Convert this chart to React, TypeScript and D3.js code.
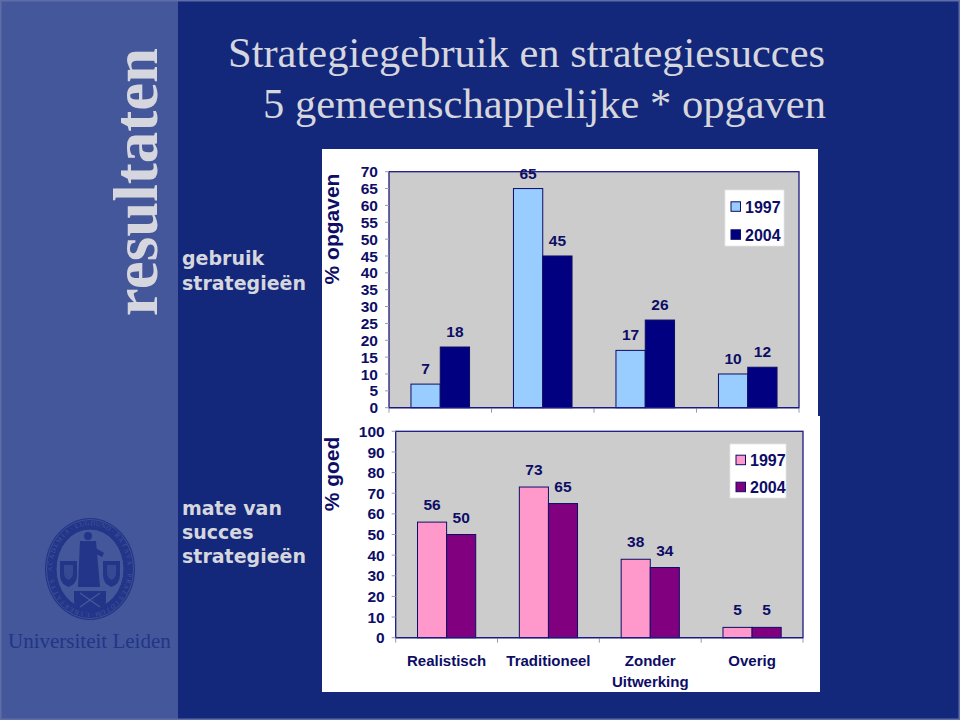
import React from "react";
import * as d3 from "d3";

// ---------- data ----------
const categories = ["Realistisch", "Traditioneel", "Zonder\nUitwerking", "Overig"];
const years = ["1997", "2004"];
const usage1997 = [7, 65, 17, 10];
const usage2004 = [18, 45, 26, 12];
const success1997 = [56, 73, 38, 5];
const success2004 = [50, 65, 34, 5];
const usageTicks = [0, 5, 10, 15, 20, 25, 30, 35, 40, 45, 50, 55, 60, 65, 70];
const successTicks = [0, 10, 20, 30, 40, 50, 60, 70, 80, 90, 100];

const titleLine1 = "Strategiegebruik en strategiesucces";
const titleLine2 = "5 gemeenschappelijke * opgaven";
const sealMotto = "ACADEMIA·LUGDUNO·BATAVA·PRAESIDIUM·LIBERTATIS·";

// ---------- styles ----------
const BG = "#13287a";
const STRIP = "#44579a";
const SEAL = "#223588";
const LIGHT = "#d6d6de";
const NAVY = "#0d0d66";
const SANS = "'Liberation Sans', Arial, sans-serif";
const SERIF = "'Liberation Serif', 'Times New Roman', serif";
const VERDANA = "'DejaVu Sans', Verdana, sans-serif";

type PanelProps = {
  x0: number; x1: number; yTop: number; yBottom: number;
  max: number; ticks: number[];
  s1: number[]; s2: number[];
  c1: string; c2: string;
  legend: { x: number; y: number; w: number; h: number };
  labelGap: number;
  tickFont: number;
  showCats: boolean;
};

function Panel(p: PanelProps) {
  const y = d3.scaleLinear().domain([0, p.max]).range([p.yBottom, p.yTop]);
  const x = d3.scaleBand<string>().domain(categories).range([p.x0, p.x1]).padding(0);
  const xs = d3.scaleBand<string>().domain(years).range([0, x.bandwidth()]).paddingInner(0).paddingOuter(0.75);
  const series = [p.s1, p.s2];
  const colors = [p.c1, p.c2];
  const bounds = [p.x0, ...categories.map((c) => (x(c) as number) + x.bandwidth())];
  return (
    <g>
      <rect x={p.x0} y={p.yTop} width={p.x1 - p.x0} height={p.yBottom - p.yTop} fill="#cccccc" stroke="#1a1a80" strokeWidth={1.3} />
      {p.ticks.map((t) => (
        <g key={t}>
          <line x1={p.x0 - 4} x2={p.x0} y1={y(t)} y2={y(t)} stroke="#9a9ab0" strokeWidth={1} />
          <text x={p.x0 - 11} y={y(t)} dy="0.36em" textAnchor="end" fontFamily={SANS} fontWeight="bold" fontSize={p.tickFont} fill={NAVY}>{t}</text>
        </g>
      ))}
      {bounds.map((b, i) => (
        <line key={i} x1={b} x2={b} y1={p.yBottom} y2={p.yBottom + 5} stroke="#9a9ab0" strokeWidth={1} />
      ))}
      {categories.map((c, ci) =>
        years.map((yr, si) => {
          const v = series[si][ci];
          const bx = (x(c) as number) + (xs(yr) as number);
          const bw = xs.bandwidth();
          return (
            <g key={c + yr}>
              <rect x={bx} y={y(v)} width={bw} height={p.yBottom - y(v)} fill={colors[si]} stroke={NAVY} strokeWidth={1} />
              <text x={bx + bw / 2} y={y(v) - p.labelGap} textAnchor="middle" fontFamily={SANS} fontWeight="bold" fontSize={15.5} fill={NAVY}>{v}</text>
            </g>
          );
        })
      )}
      <line x1={p.x0} x2={p.x1} y1={p.yBottom} y2={p.yBottom} stroke="#1a1a80" strokeWidth={1.3} />
      {p.showCats &&
        categories.map((c) => {
          const cx = (x(c) as number) + x.bandwidth() / 2;
          return c.split("\n").map((line, li) => (
            <text key={c + li} x={cx} y={p.yBottom + 28 + li * 21} textAnchor="middle" fontFamily={SANS} fontWeight="bold" fontSize={15} fill={NAVY}>{line}</text>
          ));
        })}
      <rect x={p.legend.x} y={p.legend.y} width={p.legend.w} height={p.legend.h} fill="#ffffff" stroke="#e6e6ea" strokeWidth={0.8} />
      {years.map((yr, i) => {
        const ly = p.legend.y + p.legend.h * (0.3 + i * 0.5);
        return (
          <g key={yr}>
            <rect x={p.legend.x + 6} y={ly - 5} width={9.5} height={9.5} fill={colors[i]} stroke={NAVY} strokeWidth={1} />
            <text x={p.legend.x + 20} y={ly} dy="0.36em" fontFamily={SANS} fontWeight="bold" fontSize={16} fill={NAVY}>{yr}</text>
          </g>
        );
      })}
    </g>
  );
}

function Seal() {
  const cx = 90, cy = 569, rx = 45, ry = 51;
  const rxT = 40, ryT = 46;
  const chars = sealMotto.split("");
  const n = chars.length;
  return (
    <g>
      <ellipse cx={cx} cy={cy} rx={rx} ry={ry} fill={SEAL} />
      <ellipse cx={cx} cy={cy} rx={rx - 1.5} ry={ry - 1.5} fill="none" stroke={STRIP} strokeWidth={0.8} />
      <ellipse cx={cx} cy={cy} rx={34} ry={40} fill={STRIP} stroke={SEAL} strokeWidth={1} />
      <g fontFamily={SERIF} fontSize={6.5} fill={STRIP}>
        {chars.map((ch, i) => {
          const a = Math.PI / 2 + (i / n) * 2 * Math.PI; // start at bottom-left going clockwise
          const px = cx - rxT * Math.cos(a - Math.PI / 2 + Math.PI / 2) ;
          const ang = a + Math.PI / 2;
          const qx = cx + rxT * Math.cos(ang);
          const qy = cy + ryT * Math.sin(ang);
          const rot = (ang * 180) / Math.PI + 90;
          void px;
          return (
            <text key={i} transform={`translate(${qx.toFixed(2)},${qy.toFixed(2)}) rotate(${rot.toFixed(1)})`} textAnchor="middle" dy="0.35em">{ch}</text>
          );
        })}
      </g>
      <circle cx={cx - 2} cy={cy - 33} r={4} fill={SEAL} />
      <path d={`M ${cx - 10},${cy - 28} L ${cx + 6},${cy - 28} L ${cx + 10},${cy + 18} L ${cx - 12},${cy + 18} Z`} fill={SEAL} />
      <path d={`M ${cx + 4},${cy - 22} L ${cx + 14},${cy - 16} L ${cx + 12},${cy - 12} L ${cx + 3},${cy - 17} Z`} fill={SEAL} />
      <path d={`M ${cx - 30},${cy - 8} h 17 v 14 q 0,9 -8.5,12 q -8.5,-3 -8.5,-12 Z`} fill={SEAL} />
      <path d={`M ${cx + 13},${cy - 8} h 17 v 14 q 0,9 -8.5,12 q -8.5,-3 -8.5,-12 Z`} fill={SEAL} />
      <path d={`M ${cx - 26},${cy - 4} h 9 v 8 q 0,5 -4.5,7 q -4.5,-2 -4.5,-7 Z`} fill={STRIP} opacity={0.6} />
      <path d={`M ${cx + 17},${cy - 4} h 9 v 8 q 0,5 -4.5,7 q -4.5,-2 -4.5,-7 Z`} fill={STRIP} opacity={0.6} />
      <path d={`M ${cx - 16},${cy + 22} h 32 v 10 q 0,8 -16,12 q -16,-4 -16,-12 Z`} fill={SEAL} />
      <line x1={cx - 10} y1={cy + 24} x2={cx + 10} y2={cy + 38} stroke={STRIP} strokeWidth={1.5} />
      <line x1={cx + 10} y1={cy + 24} x2={cx - 10} y2={cy + 38} stroke={STRIP} strokeWidth={1.5} />
    </g>
  );
}

export default function App() {
  return (
    <svg width={960} height={720} style={{ position: "absolute", left: 0, top: 0, display: "block" }} xmlns="http://www.w3.org/2000/svg">
      <rect x={0} y={0} width={960} height={720} fill={BG} />
      <rect x={0} y={0} width={178} height={720} fill={STRIP} />
      <rect x={0.75} y={0.75} width={958.5} height={718.5} fill="none" stroke="#5e6ca8" strokeWidth={1.5} />

      <text transform="translate(157,182) rotate(-90)" textAnchor="middle" fontFamily={SERIF} fontWeight="bold" fontSize={63} fill={LIGHT}>resultaten</text>

      <Seal />
      <text x={8} y={648} fontFamily={SERIF} fontSize={21} fill={SEAL}>Universiteit Leiden</text>

      <text x={228} y={67} fontFamily={SERIF} fontSize={42.5} fill={LIGHT}>{titleLine1}</text>
      <text x={263} y={118} fontFamily={SERIF} fontSize={42.5} fill={LIGHT}>{titleLine2}</text>

      <text fontFamily={VERDANA} fontWeight="bold" fontSize={19} fill={LIGHT}>
        <tspan x={182} y={265}>gebruik</tspan>
        <tspan x={182} y={290}>strategieën</tspan>
      </text>
      <text fontFamily={VERDANA} fontWeight="bold" fontSize={19} fill={LIGHT}>
        <tspan x={182} y={515}>mate van</tspan>
        <tspan x={182} y={539}>succes</tspan>
        <tspan x={182} y={563}>strategieën</tspan>
      </text>

      <rect x={322} y={149} width={496} height={268} fill="#ffffff" />
      <rect x={322} y={416} width={498} height={276} fill="#ffffff" />

      <text transform="translate(338.5,229) rotate(-90)" textAnchor="middle" fontFamily={SANS} fontWeight="bold" fontSize={21} fill={NAVY}>% opgaven</text>
      <text transform="translate(338.5,474) rotate(-90)" textAnchor="middle" fontFamily={SANS} fontWeight="bold" fontSize={21} fill={NAVY}>% goed</text>

      <Panel
        x0={389} x1={799} yTop={171.7} yBottom={407.7}
        max={70} ticks={usageTicks}
        s1={usage1997} s2={usage2004}
        c1="#99ccff" c2="#000080"
        legend={{ x: 725, y: 190, w: 59, h: 56 }}
        labelGap={10} tickFont={15.5} showCats={false}
      />
      <Panel
        x0={395.7} x1={803} yTop={431.3} yBottom={637.7}
        max={100} ticks={successTicks}
        s1={success1997} s2={success2004}
        c1="#ff99cc" c2="#800080"
        legend={{ x: 730, y: 444, w: 56, h: 54 }}
        labelGap={12} tickFont={15.5} showCats={true}
      />
    </svg>
  );
}
